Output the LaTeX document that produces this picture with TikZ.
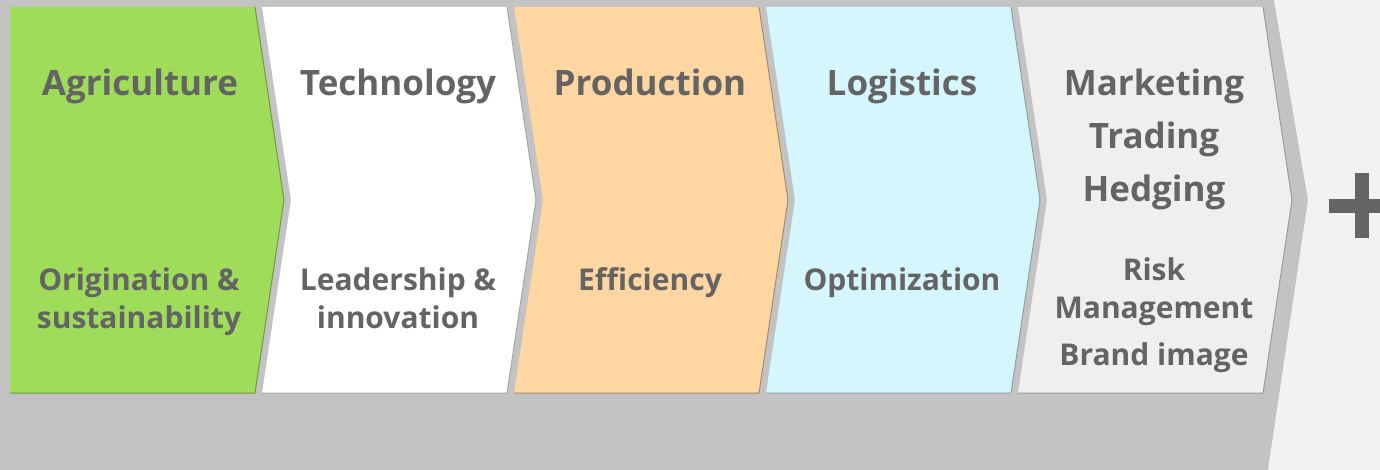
\documentclass[tikz,border=0pt]{standalone}
\usepackage{fontspec}
\setmainfont{Open Sans}
\definecolor{bggray}{HTML}{C3C3C3}
\definecolor{rightgray}{HTML}{F2F2F2}
\definecolor{txtgray}{HTML}{646464}
\definecolor{agrigreen}{HTML}{9FDC5A}
\definecolor{techwhite}{HTML}{FFFFFF}
\definecolor{prodpeach}{HTML}{FDD6A2}
\definecolor{logiblue}{HTML}{D5F6FC}
\definecolor{marklight}{HTML}{EFEFEF}
\tikzset{
  head/.style={font=\fontsize{35}{53}\selectfont\bfseries, text=txtgray, align=center, anchor=base, inner sep=0pt},
  sub/.style={font=\fontsize{30}{38}\selectfont\bfseries, text=txtgray, align=center, anchor=base, inner sep=0pt},
}
\begin{document}
\begin{tikzpicture}[x=1pt, y=-1pt]
\useasboundingbox (0,0) rectangle (1380,470);
\fill[bggray] (0,0) rectangle (1380,470);
\fill[rightgray] (1274,0)--(1380,0)--(1380,470)--(1268,470)--(1308,200)--cycle;

% chevrons
\fill[agrigreen] (10,7)--(255,7)--(284,200)--(255,393)--(10,393)--cycle;
\draw[agrigreen!70!black, line width=1pt] (255,7)--(284,200)--(255,393)--(10,393);
\foreach \i/\col in {1/techwhite, 2/prodpeach, 3/logiblue, 4/marklight}{
  \pgfmathsetmacro{\L}{10+252*\i}
  \pgfmathsetmacro{\R}{255+252*\i}
  \fill[\col] (\L,7)--(\R,7)--(\R+29,200)--(\R,393)--(\L,393)--(\L+29,200)--cycle;
  \draw[\col!65!black, line width=1pt] (\R,7)--(\R+29,200)--(\R,393)--(\L,393);
}

% base anchor = baseline of the last line
\node[head] (agri) at (140,96) {Agriculture};
\node[head] (tech) at (398,96) {Technology};
\node[head] (prod) at (650,96) {Production};
\node[head] (logi) at (902,96) {Logistics};
\node[head] (mark) at (1154,202) {Marketing\\Trading\\Hedging};

\node[sub] (orig) at (139,328) {Origination \&\\sustainability};
\node[sub] (lead) at (398,328) {Leadership \&\\innovation};
\node[sub] (effi) at (650,290) {Efficiency};
\node[sub] (opti) at (902,290) {Optimization};
\node[sub] (risk) at (1154,318) {Risk\\Management};
\node[sub] (bran) at (1154,365) {Brand image};

% plus sign
\fill[txtgray] (1355,173) rectangle (1369,238);
\fill[txtgray] (1329,199) rectangle (1395,213);
\end{tikzpicture}
\end{document}
